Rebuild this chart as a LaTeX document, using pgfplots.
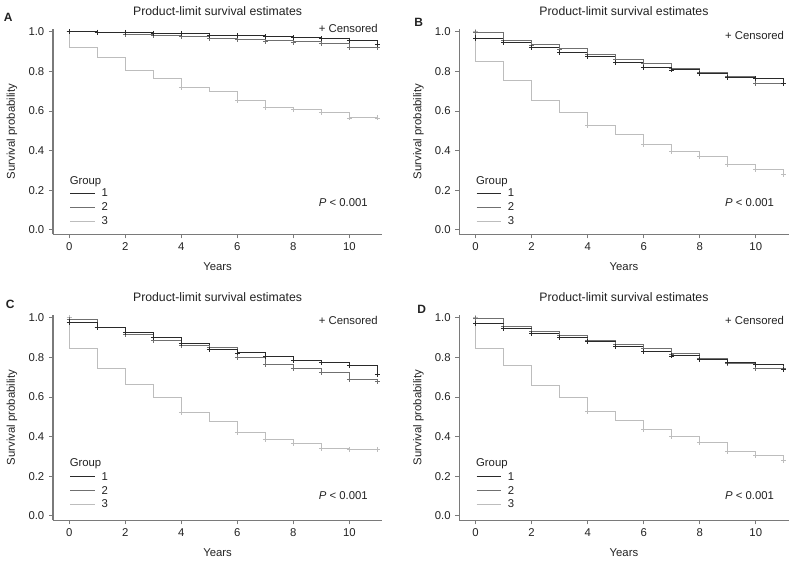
\documentclass[border=0pt]{standalone}
\usepackage{fontspec}
\setmainfont{Liberation Sans}
\usepackage{pgfplots}
\pgfplotsset{compat=1.18}
\usepackage{pgfplotstable}

\definecolor{gone}{HTML}{2A2A2A}
\definecolor{gtwo}{HTML}{707070}
\definecolor{gthree}{HTML}{BDBDBD}
\definecolor{axisc}{HTML}{7A7A7A}
\definecolor{txt}{HTML}{222222}

\newcommand{\fsz}{\fontsize{8.5pt}{10pt}\selectfont}
\newcommand{\tsz}{\fontsize{9.2pt}{11pt}\selectfont}

% survival estimates, first row is the start at 1.0
\pgfplotstableread{
t g1 g2 g3
0 1 1 1
0 0.999 0.999 0.919
1 0.998 0.996 0.871
2 0.996 0.985 0.805
3 0.993 0.982 0.765
4 0.991 0.975 0.719
5 0.983 0.967 0.696
6 0.980 0.962 0.654
7 0.975 0.953 0.618
8 0.970 0.948 0.608
9 0.965 0.942 0.592
10 0.957 0.921 0.565
11 0.935 0.921 0.565
}\dataA

\pgfplotstableread{
t g1 g2 g3
0 1 1 1
0 0.966 0.995 0.849
1 0.945 0.955 0.756
2 0.921 0.933 0.655
3 0.896 0.913 0.593
4 0.877 0.886 0.526
5 0.845 0.862 0.479
6 0.820 0.840 0.432
7 0.807 0.815 0.397
8 0.787 0.795 0.370
9 0.770 0.776 0.328
10 0.762 0.739 0.303
11 0.740 0.739 0.282
}\dataB

\pgfplotstableread{
t g1 g2 g3
0 1 1 1
0 0.978 0.990 0.845
1 0.951 0.949 0.743
2 0.925 0.914 0.662
3 0.900 0.883 0.595
4 0.870 0.860 0.521
5 0.838 0.849 0.476
6 0.822 0.798 0.420
7 0.803 0.763 0.387
8 0.785 0.744 0.365
9 0.773 0.725 0.341
10 0.757 0.689 0.336
11 0.715 0.680 0.336
}\dataC

\pgfplotstableread{
t g1 g2 g3
0 1 1 1
0 0.970 0.996 0.845
1 0.946 0.955 0.757
2 0.921 0.930 0.656
3 0.900 0.909 0.597
4 0.879 0.887 0.529
5 0.854 0.864 0.481
6 0.829 0.845 0.437
7 0.807 0.817 0.400
8 0.787 0.795 0.372
9 0.775 0.768 0.326
10 0.765 0.745 0.303
11 0.740 0.745 0.282
}\dataD

\pgfplotsset{
  km/.style={
    scale only axis, width=246.9pt, height=154.2pt,
    xmin=-0.58, xmax=11.17, ymin=-0.022, ymax=1.015,
    axis x line*=bottom, axis y line*=left,
    axis line style={draw=axisc, line width=0.8pt, -},
    xtick={0,2,4,6,8,10}, ytick={0,0.2,0.4,0.6,0.8,1},
    yticklabel style={/pgf/number format/.cd, fixed, fixed zerofill, precision=1},
    /pgf/number format/assume math mode=true,
    tick align=outside, major tick length=3pt,
    tick style={draw=axisc, line width=0.7pt},
    tick label style={font=\fsz, text=txt},
    xlabel={Years}, ylabel={Survival probability},
    label style={font=\fsz, text=txt},
    xlabel style={at={(axis description cs:0.5,-0.1576)}, anchor=center},
    ylabel style={at={(axis description cs:-0.1245,0.5)}, anchor=center},
    title={Product-limit survival estimates},
    every axis title shift=0pt,
    title style={at={(axis description cs:0.5,1.0863)}, anchor=center, font=\tsz, text=txt},
    clip=false,
    const plot mark left,
    every axis plot/.append style={line width=0.75pt, mark size=1.9pt, mark options={solid, line width=0.6pt}},
    reverse legend,
    legend cell align=left,
    legend image code/.code={\draw[#1, mark=none] (0pt,2.6pt) -- (18.5pt,2.6pt);},
  },
  kmleg/.style={
    legend style={at={(axis cs:0.01,#1)}, anchor=north west, draw=none, fill=none,
      inner sep=0pt, row sep=0pt, column sep=4.6pt, font=\fsz, text=txt,
      nodes={inner sep=0pt, text height=7.4pt, text depth=2.95pt, anchor=base west}},
  },
  s1/.style={gone, mark=+, mark indices={2,3,4,5,6,7,8,9,10,11,12,13}},
  s2/.style={gtwo, mark=+, mark indices={2,3,4,5,6,7,8,9,10,11,12,13}},
  s3/.style={gthree, mark=+, mark indices={1,6,8,9,10,11,12,13}},
}

\newcommand{\kmtext}[3]{%
  \node[anchor=east, font=\fsz, text=txt, inner sep=0pt] at (axis cs:11.02,#1) {+ Censored};
  \node[anchor=west, font=\fsz, text=txt, inner sep=0pt] at (axis cs:8.9,#2) {\textit{P} < 0.001};
  \node[anchor=west, font=\fsz, text=txt, inner sep=0pt] at (axis cs:0.01,#3) {Group};
}

\begin{document}
\begin{tikzpicture}
\useasboundingbox (0,0) rectangle (597pt,423pt);

% A
\begin{axis}[km, kmleg=0.2175, at={(39.75pt,247.28pt)}, anchor=south west]
\addplot[s3] table[x=t, y=g3] {\dataA};
\addplot[s2] table[x=t, y=g2] {\dataA};
\addplot[s1] table[x=t, y=g1] {\dataA};
\legend{3,2,1}
\kmtext{1.0185}{0.138}{0.245}
\end{axis}

% B
\begin{axis}[km, kmleg=0.2175, at={(344.5pt,247.28pt)}, anchor=south west]
\addplot[s3] table[x=t, y=g3] {\dataB};
\addplot[s2] table[x=t, y=g2] {\dataB};
\addplot[s1] table[x=t, y=g1] {\dataB};
\legend{3,2,1}
\kmtext{0.983}{0.138}{0.245}
\end{axis}

% C
\begin{axis}[km, kmleg=0.231, at={(39.75pt,32.78pt)}, anchor=south west]
\addplot[s3] table[x=t, y=g3] {\dataC};
\addplot[s2] table[x=t, y=g2] {\dataC};
\addplot[s1] table[x=t, y=g1] {\dataC};
\legend{3,2,1}
\kmtext{0.988}{0.101}{0.264}
\end{axis}

% D
\begin{axis}[km, kmleg=0.231, at={(344.5pt,32.78pt)}, anchor=south west]
\addplot[s3] table[x=t, y=g3] {\dataD};
\addplot[s2] table[x=t, y=g2] {\dataD};
\addplot[s1] table[x=t, y=g1] {\dataD};
\legend{3,2,1}
\kmtext{0.988}{0.101}{0.264}
\end{axis}

\node[font=\bfseries\fontsize{9pt}{10pt}\selectfont, text=txt] at (6.2pt,410.25pt) {A};
\node[font=\bfseries\fontsize{9pt}{10pt}\selectfont, text=txt] at (314pt,406pt) {B};
\node[font=\bfseries\fontsize{9pt}{10pt}\selectfont, text=txt] at (7.7pt,195pt) {C};
\node[font=\bfseries\fontsize{9pt}{10pt}\selectfont, text=txt] at (316.3pt,191pt) {D};
\end{tikzpicture}
\end{document}
